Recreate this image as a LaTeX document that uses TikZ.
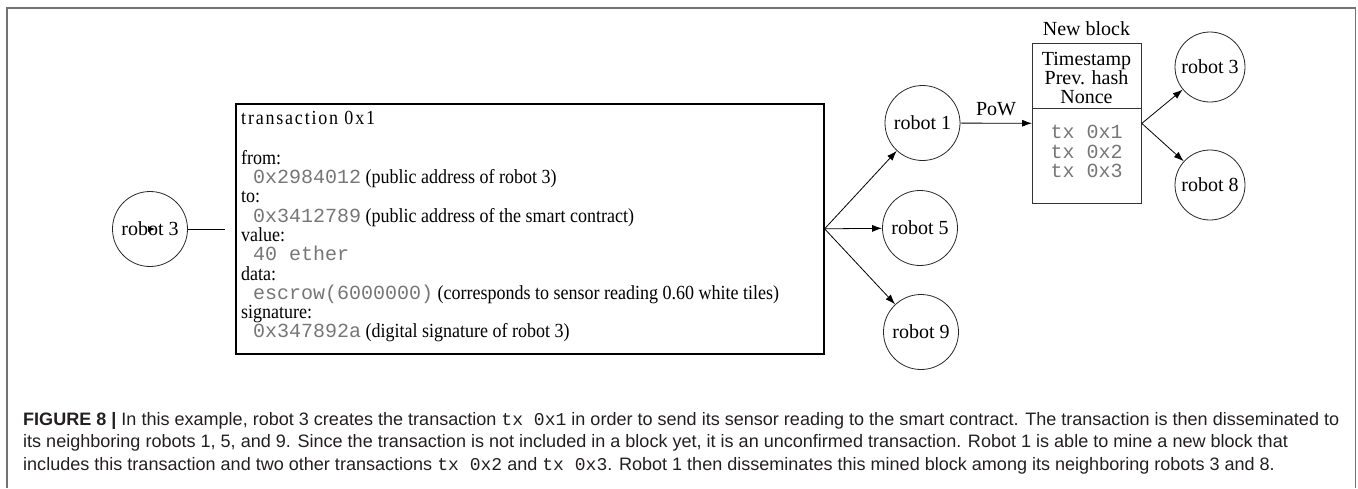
\documentclass[tikz,border=0pt]{standalone}
\usepackage{fontspec}
\setmainfont{Liberation Serif}
\setmonofont{Liberation Mono}
\newfontfamily\capfont{Liberation Sans}
\newfontfamily\boxfont[FakeStretch=0.9]{Liberation Serif}
\newfontfamily\titlefont[FakeStretch=0.9,LetterSpace=9]{Liberation Serif}
\usetikzlibrary{arrows.meta}
\definecolor{monogray}{RGB}{118,118,118}
\definecolor{capgray}{RGB}{35,31,32}
\newlength\capW
\newcommand\capLineA{\textbf{FIGURE 8 |} In this example, robot 3 creates the transaction \texttt{tx 0x1} in order to send its sensor reading to the smart contract. The transaction is then disseminated to}
\newcommand\capLineB{its neighboring robots 1, 5, and 9. Since the transaction is not included in a block yet, it is an unconfirmed transaction. Robot 1 is able to mine a new block that}
\newcommand\capLineC{includes this transaction and two other transactions \texttt{tx 0x2} and \texttt{tx 0x3}. Robot 1 then disseminates this mined block among its neighboring robots 3 and 8.}
\tikzset{
  robot/.style={circle, draw=black!85, line width=0.8pt, minimum size=75pt, inner sep=0pt,
    font=\fontsize{20}{22}\selectfont},
  robotsm/.style={robot, minimum size=70pt},
  arr/.style={-{Latex[length=10pt,width=7pt]}, line width=0.8pt, draw=black},
  txt/.style={anchor=base west, inner sep=0pt, font=\boxfont\fontsize{20}{20}\selectfont},
  blktxt/.style={anchor=base, inner sep=0pt, font=\fontsize{20}{22}\selectfont},
  monob/.style={text=monogray, font=\fontsize{20}{22}\ttfamily},
  capline/.style={anchor=base west, inner sep=0pt, text=capgray, font=\capfont\fontsize{18}{22}\selectfont}
}
\newcommand\mt[1]{{\color{monogray}\fontsize{20}{20}\ttfamily\ #1}}
\begin{document}
\settowidth\capW{\capfont\fontsize{18}{22}\selectfont\capLineA}%
\pgfmathsetmacro\capsxtmp{1316pt/\capW}%
\xdef\capsx{\capsxtmp}%
\begin{tikzpicture}[x=1pt, y=-1pt]
\useasboundingbox (0,0) rectangle (1358,488);
% outer frame
\draw[draw=black!55, line width=1.5pt] (7,488) -- (7,8) -- (1355.5,8) -- (1355.5,488);

% left robot 3
\node[robot] (r3a) at (150,229) {robot 3};
\coordinate (r3end) at (225,229);
\draw[line width=0.8pt] (r3a.east) -- (r3end);
\draw[-{Latex[length=7pt,width=6pt]}, line width=0.6pt] ([xshift=-2pt]r3a.center) -- ([xshift=5pt]r3a.center);

% transaction box
\node[draw, line width=1.6pt, minimum width=588pt, minimum height=250pt, inner sep=0pt, anchor=north west] (tx) at (235,103) {};
\node[txt, font=\titlefont\fontsize{20}{20}\selectfont] (t1) at (241,124.5) {transaction 0x1};
\node[txt] (t2) at (241,164.2) {from:};
\node[txt] (t3) at (241,183.5) {\mt{0x2984012} (public address of robot 3)};
\node[txt] (t4) at (241,202.8) {to:};
\node[txt] (t5) at (241,222.1) {\mt{0x3412789} (public address of the smart contract)};
\node[txt] (t6) at (241,241.4) {value:};
\node[txt] (t7) at (241,260.7) {\mt{40 ether}};
\node[txt] (t8) at (241,280) {data:};
\node[txt] (t9) at (241,299.3) {\mt{escrow(6000000)} (corresponds to sensor reading 0.60 white tiles)};
\node[txt] (t10) at (241,318.6) {signature:};
\node[txt] (t11) at (241,337.9) {\mt{0x347892a} (digital signature of robot 3)};

% neighbours
\node[robot] (r1) at (922.5,123) {robot 1};
\node[robot] (r5) at (920,228) {robot 5};
\node[robot] (r9) at (921,332) {robot 9};
\draw[arr] (tx.east) -- (r1);
\draw[arr] (tx.east) -- (r5);
\draw[arr] (tx.east) -- (r9);

% block
\node[draw=black!80, line width=0.8pt, minimum width=109pt, minimum height=160pt, inner sep=0pt, anchor=north west] (blk) at (1032,43) {};
\draw[draw=black!80, line width=0.8pt] ([yshift=-65pt]blk.north west) -- ([yshift=-65pt]blk.north east);
\node[blktxt] (nb) at (1086.5,35) {New block};
\node[blktxt] (b1) at (1086.5,65) {Timestamp};
\node[blktxt] (b2) at (1086.5,84) {Prev. hash};
\node[blktxt] (b3) at (1086.5,103) {Nonce};
\node[blktxt, monob] (b4) at (1086.5,138) {tx 0x1};
\node[blktxt, monob] (b5) at (1086.5,158) {tx 0x2};
\node[blktxt, monob] (b6) at (1086.5,177) {tx 0x3};

\draw[arr] (r1) -- (blk);
\node[blktxt] (pow) at (996,115) {PoW};

\node[robotsm] (r3b) at (1210,67) {robot 3};
\node[robotsm] (r8) at (1210,185) {robot 8};
\draw[arr] (blk.east) -- (r3b);
\draw[arr] (blk.east) -- (r8);

% caption
\node[capline] (c1) at (23,425) {\scalebox{\capsx}[1]{\capLineA}};
\node[capline] (c2) at (23,447.5) {\scalebox{\capsx}[1]{\capLineB}};
\node[capline] (c3) at (23,470) {\scalebox{\capsx}[1]{\capLineC}};
\end{tikzpicture}
\end{document}
